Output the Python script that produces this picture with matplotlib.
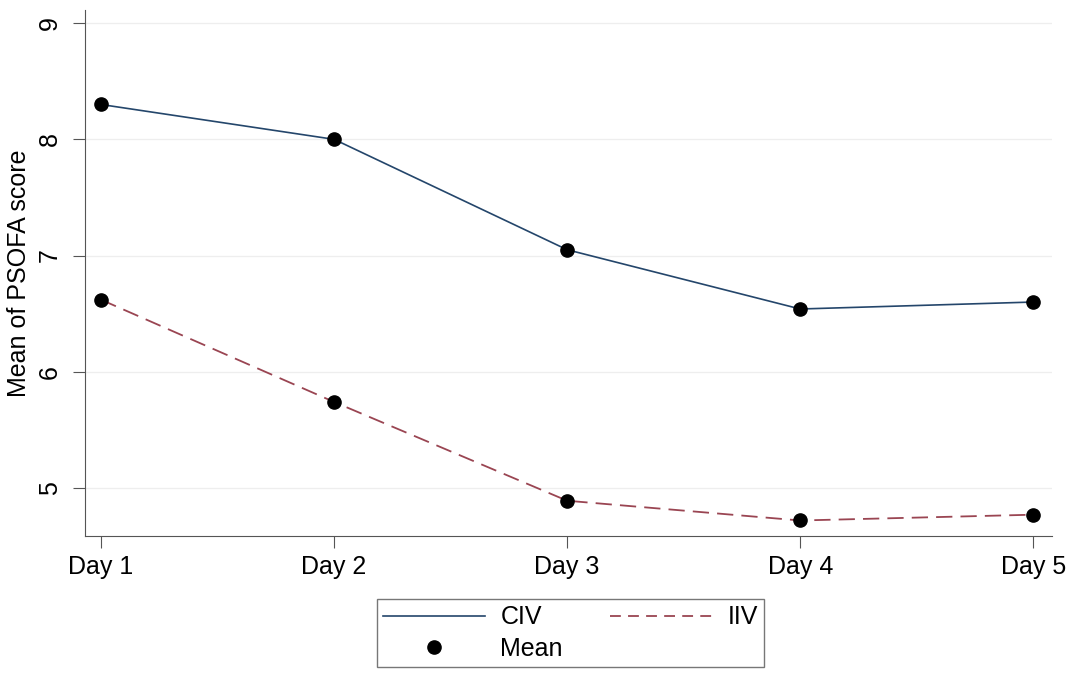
import numpy as np
import matplotlib.pyplot as plt
from matplotlib.lines import Line2D

plt.rcParams['font.family'] = ['Liberation Sans', 'DejaVu Sans']

days = ['Day 1', 'Day 2', 'Day 3', 'Day 4', 'Day 5']
civ = [8.30, 8.00, 7.05, 6.54, 6.60]
iiv = [6.62, 5.74, 4.89, 4.72, 4.77]
yticks = [5, 6, 7, 8, 9]

civ_color = '#24466b'
iiv_color = '#9a4552'

fig = plt.figure(figsize=(10.75, 6.75), dpi=100)
ax = fig.add_axes([0.079, 0.206, 0.8996, 0.779])

x = np.arange(len(days))
ax.plot(x, civ, '-', color=civ_color, lw=1.2, zorder=2)
ax.plot(x, iiv, '--', color=iiv_color, lw=1.3, dashes=(9, 4.5), zorder=2)
ax.plot(x, civ, 'o', color='black', ms=9.5, zorder=3)
ax.plot(x, iiv, 'o', color='black', ms=9.5, zorder=3)

ax.set_xlim(-0.069, 4.08)
ax.set_ylim(4.587, 9.112)
ax.set_xticks(x)
ax.set_xticklabels(days, fontsize=18)
ax.set_yticks(yticks)
ax.set_yticklabels([str(v) for v in yticks], fontsize=18, rotation=90, va='center')
ax.set_ylabel('Mean of PSOFA score', fontsize=18, labelpad=5)
ax.grid(axis='y', color='#eeeeee', lw=0.9)
ax.tick_params(direction='out', length=8.5, color='#555555')
ax.tick_params(axis='x', pad=5)
ax.tick_params(axis='y', pad=8)
for s in ['top', 'right']:
    ax.spines[s].set_visible(False)
for s in ['left', 'bottom']:
    ax.spines[s].set_color('#555555')

handles = [
    Line2D([], [], color=civ_color, lw=1.2),
    Line2D([], [], marker='o', color='black', ls='none', ms=9.5),
    Line2D([], [], color=iiv_color, lw=1.3, ls='--', dashes=(6, 4)),
]
labels = ['CIV', 'Mean', 'IIV']
leg = fig.legend(handles, labels, loc='center', bbox_to_anchor=(570.5 / 1075, 1 - 633 / 675),
                 ncol=2, fontsize=18, frameon=True, fancybox=False,
                 edgecolor='#555555', handlelength=4.1, handletextpad=0.6,
                 columnspacing=1.9, borderpad=0.25, labelspacing=0.3,
                 borderaxespad=0)
leg.get_frame().set_linewidth(1.0)

fig.savefig('out.png', dpi=100)
